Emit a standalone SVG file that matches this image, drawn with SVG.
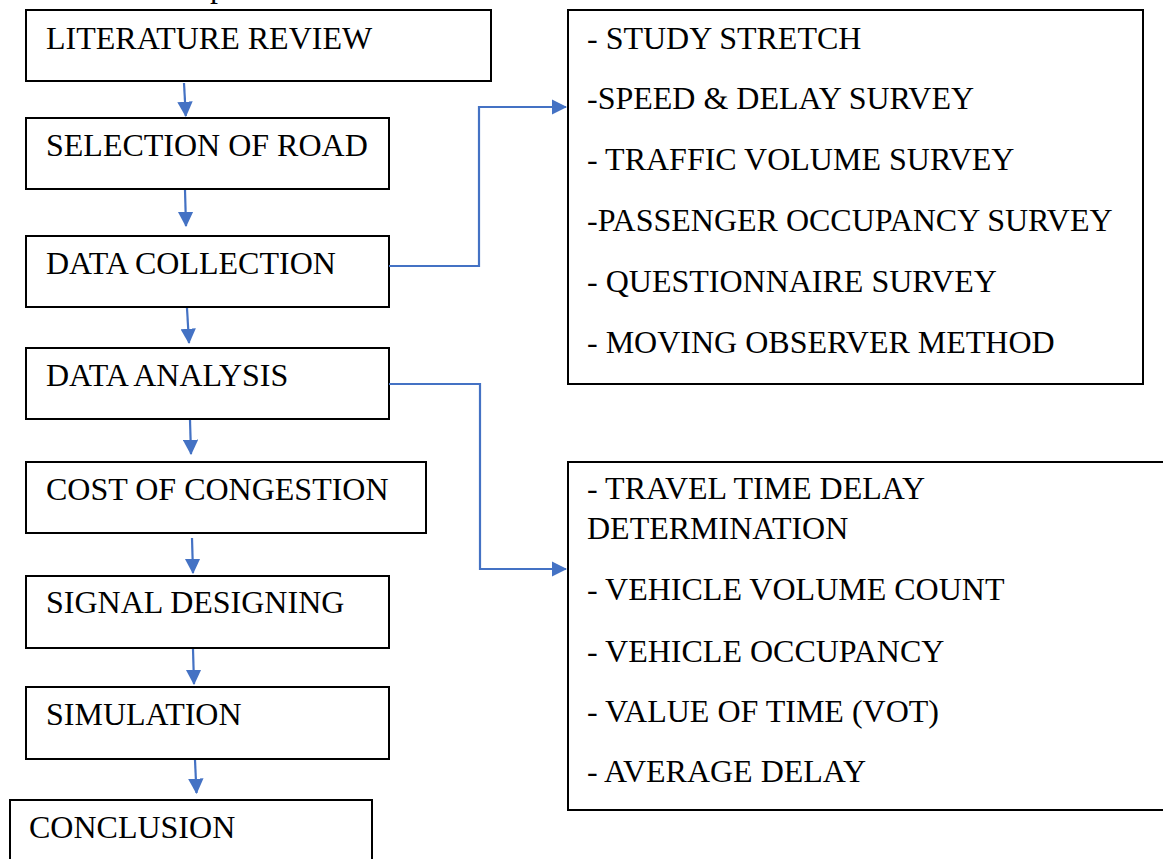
<svg xmlns="http://www.w3.org/2000/svg" width="1163" height="859" viewBox="0 0 1163 859">
<style>
.box{fill:#fff;stroke:#000;stroke-width:2}
.t{font-family:"Liberation Serif","Times New Roman",serif;font-size:32px;fill:#000}
.c{fill:none;stroke:#4472C4;stroke-width:2.2}
</style>
<defs>
<marker id="ah" markerWidth="7" markerHeight="7" refX="6.5" refY="3.5" orient="auto" markerUnits="strokeWidth">
<path d="M0,0 L7,3.5 L0,7 z" fill="#4472C4"/>
</marker>
</defs>
<rect width="1163" height="859" fill="#fff"/>
<text class="t" x="210" y="-3">p</text>
<g id="n1"><rect class="box" x="26" y="10" width="465" height="71"/><text class="t" x="46" y="49">LITERATURE REVIEW</text></g>
<g id="n2"><rect class="box" x="26" y="118" width="363" height="71"/><text class="t" x="46" y="156">SELECTION OF ROAD</text></g>
<g id="n3"><rect class="box" x="26" y="236" width="363" height="71"/><text class="t" x="46" y="274">DATA COLLECTION</text></g>
<g id="n4"><rect class="box" x="26" y="348" width="363" height="71"/><text class="t" x="46" y="386">DATA ANALYSIS</text></g>
<g id="n5"><rect class="box" x="26" y="462" width="400" height="71"/><text class="t" x="46" y="500">COST OF CONGESTION</text></g>
<g id="n6"><rect class="box" x="26" y="576" width="363" height="72"/><text class="t" x="46" y="613">SIGNAL DESIGNING</text></g>
<g id="n7"><rect class="box" x="26" y="687" width="363" height="72"/><text class="t" x="46" y="725">SIMULATION</text></g>
<g id="n8"><rect class="box" x="10" y="800" width="362" height="80"/><text class="t" x="29" y="838">CONCLUSION</text></g>
<g id="r1"><rect class="box" x="568" y="10" width="575" height="374"/>
<text class="t" x="587" y="49">- STUDY STRETCH</text>
<text class="t" x="587" y="109">-SPEED &amp; DELAY SURVEY</text>
<text class="t" x="587" y="170">- TRAFFIC VOLUME SURVEY</text>
<text class="t" x="587" y="231">-PASSENGER OCCUPANCY SURVEY</text>
<text class="t" x="587" y="292">- QUESTIONNAIRE SURVEY</text>
<text class="t" x="587" y="353">- MOVING OBSERVER METHOD</text>
</g>
<g id="r2"><rect class="box" x="568" y="462" width="620" height="348"/>
<text class="t" x="587" y="499">- TRAVEL TIME DELAY</text>
<text class="t" x="587" y="539">DETERMINATION</text>
<text class="t" x="587" y="600">- VEHICLE VOLUME COUNT</text>
<text class="t" x="587" y="662">- VEHICLE OCCUPANCY</text>
<text class="t" x="587" y="722">- VALUE OF TIME (VOT)</text>
<text class="t" x="587" y="782">- AVERAGE DELAY</text>
</g>
<g id="connectors">
<path class="c" d="M184,83 L185.8,116" marker-end="url(#ah)"/>
<path class="c" d="M185,190 L186,226" marker-end="url(#ah)"/>
<path class="c" d="M187,308 L189,343" marker-end="url(#ah)"/>
<path class="c" d="M190,420 L191,454" marker-end="url(#ah)"/>
<path class="c" d="M192,538 L193,573" marker-end="url(#ah)"/>
<path class="c" d="M193,649 L194,684" marker-end="url(#ah)"/>
<path class="c" d="M195,760 L196.5,793" marker-end="url(#ah)"/>
<path class="c" d="M389,266 H479 V107 H566" marker-end="url(#ah)"/>
<path class="c" d="M389,384 H480 V569 H566" marker-end="url(#ah)"/>
</g>
</svg>
